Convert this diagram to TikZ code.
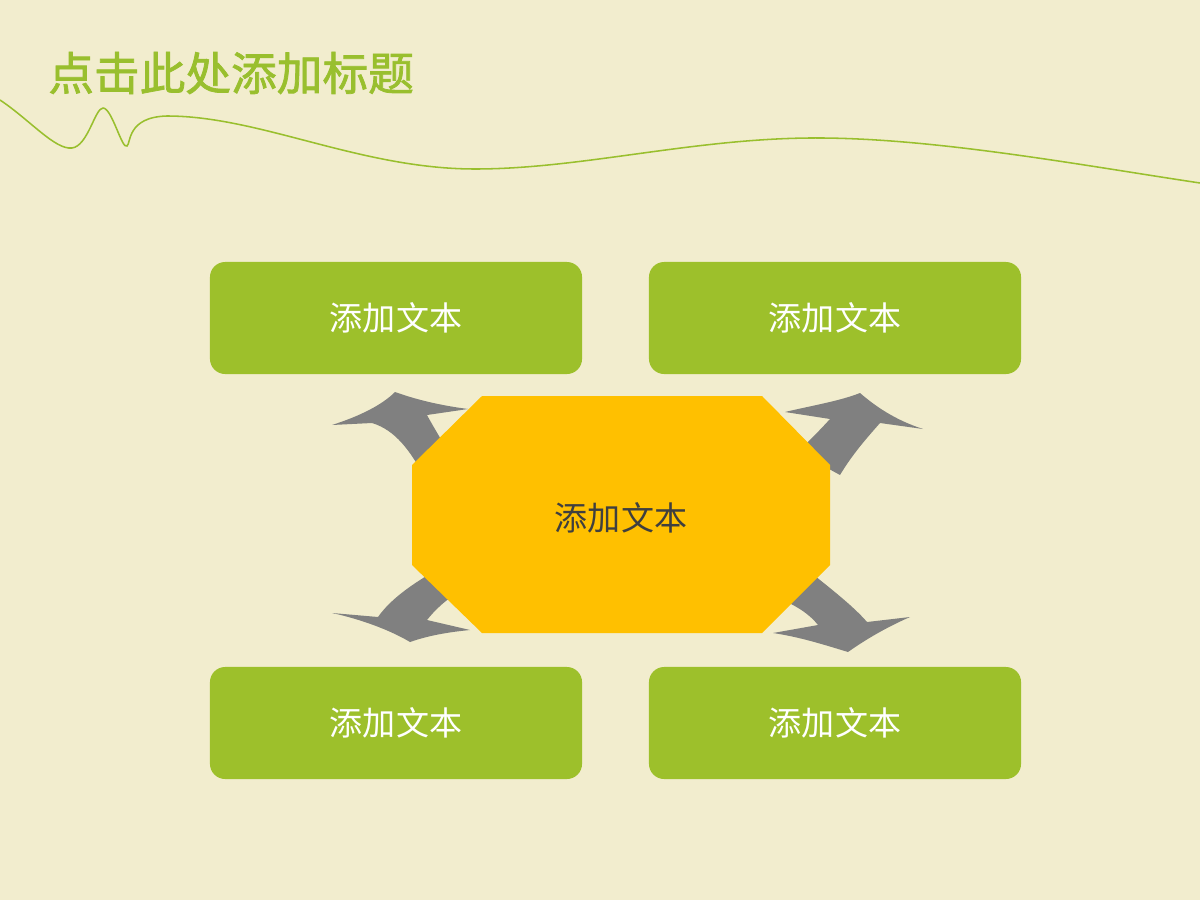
\documentclass[tikz,border=0pt]{standalone}
\usepackage{fontspec}
\newfontfamily\cjk{Noto Sans CJK SC}
\newfontfamily\cjktitle[FakeBold=1.6]{Noto Sans CJK SC}
\usetikzlibrary{positioning}

\definecolor{bgcream}{HTML}{F2EDCE}
\definecolor{leafgreen}{HTML}{9DC02B}
\definecolor{titlegreen}{HTML}{99BF2E}
\definecolor{hubyellow}{HTML}{FFC000}
\definecolor{arrowgray}{HTML}{808080}
\definecolor{textdark}{HTML}{3F3F3F}

\begin{document}
\begin{tikzpicture}[x=0.025cm,y=-0.025cm,
  greenbox/.style={fill=leafgreen,rounded corners=0.38cm,minimum width=9.3cm,minimum height=2.8cm,
    text=white,font=\cjk\fontsize{23.5}{28}\selectfont},
  bigarrow/.style={fill=arrowgray}]
\fill[bgcream] (0,0) rectangle (1200,900);
\useasboundingbox (0,0) rectangle (1200,900);

% title and wave
\node[anchor=west,text=titlegreen,font=\cjktitle\fontsize{32.5}{38}\selectfont,inner sep=0pt] (title) at (48,73) {点击此处添加标题};
\draw[titlegreen,line width=1.1pt] (0,100) .. controls (30,120) and (55,150) .. (72,148)
  .. controls (88,146) and (95,108) .. (103,108) .. controls (112,108) and (122,150) .. (127,146)
  .. controls (131,143) and (127,117) .. (167,116) .. controls (260,116) and (360,169) .. (475,169)
  .. controls (580,169) and (690,139) .. (810,138) .. controls (930,137) and (1080,165) .. (1200,183);

% arrows (behind the hub)
\fill[bigarrow] (332,425) .. controls (360,416) and (382,405) .. (395,392) .. controls (420,401) and (445,406) .. (468,409) -- (427,415) .. controls (435,430) and (445,445) .. (455,465) -- (425,478) .. controls (410,450) and (395,430) .. (372,423) -- cycle;
\fill[bigarrow] (785,412) .. controls (810,406) and (840,401) .. (860,393) .. controls (875,406) and (895,420) .. (923,429) -- (880,423) .. controls (865,440) and (852,455) .. (840,475) -- (798,452) .. controls (810,440) and (820,430) .. (830,419) -- cycle;
\fill[bigarrow] (332,613) .. controls (360,619) and (390,630) .. (410,642) .. controls (430,635) and (450,632) .. (470,630) -- (427,620) .. controls (435,610) and (445,600) .. (462,590) -- (440,568) .. controls (410,585) and (390,600) .. (378,617) -- cycle;
\fill[bigarrow] (773,633) .. controls (800,637) and (825,645) .. (848,652) .. controls (865,640) and (885,628) .. (910,617) -- (867,622) .. controls (855,608) and (835,592) .. (815,576) -- (783,600) .. controls (800,608) and (810,615) .. (818,625) -- cycle;

% hub
\fill[hubyellow] (482,396) -- (762,396) -- (830,465) -- (830,565) -- (762,633) -- (482,633) -- (412,565) -- (412,465) -- cycle;
\node[text=textdark,font=\cjk\fontsize{23.5}{28}\selectfont] (hub) at (621,518) {添加文本};

% boxes
\node[greenbox] (tl) at (396,318) {添加文本};
\node[greenbox] (tr) at (835,318) {添加文本};
\node[greenbox] (bl) at (396,723) {添加文本};
\node[greenbox] (br) at (835,723) {添加文本};
\end{tikzpicture}
\end{document}
